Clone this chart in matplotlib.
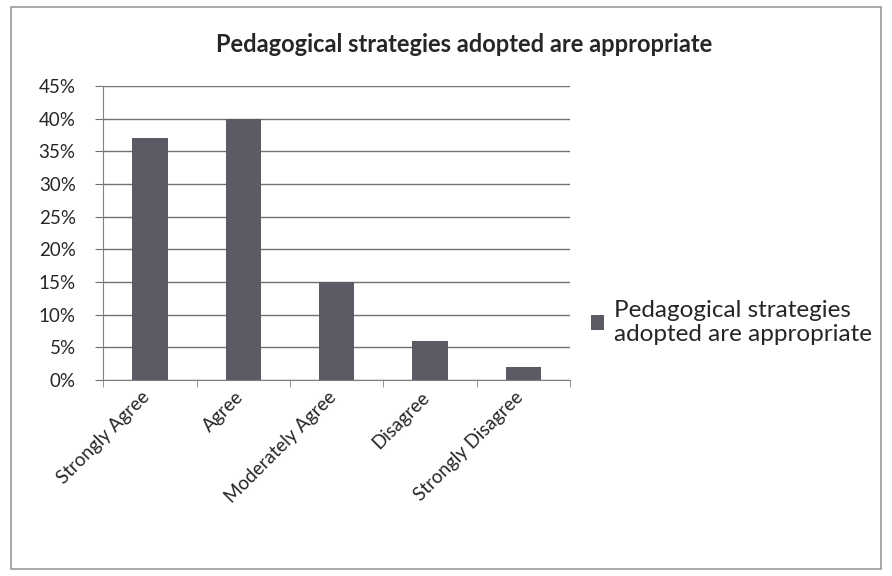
import matplotlib.pyplot as plt
import matplotlib.patches as mpatches
import matplotlib.transforms as mtransforms
import numpy as np

plt.rcParams['font.family'] = ['Lato', 'DejaVu Sans']

categories = ["Strongly Agree", "Agree", "Moderately Agree", "Disagree", "Strongly Disagree"]
percent = [37, 40, 15, 6, 2]
series_name = "Pedagogical strategies\nadopted are appropriate"
title = "Pedagogical strategies adopted are appropriate"

bar_color = "#5b5b66"
text_color = "#262626"

fig = plt.figure(figsize=(8.92, 5.76), dpi=100)
# outer chart border
fig.patches.append(mpatches.Rectangle((0.012, 0.012), 0.976, 0.976, transform=fig.transFigure,
                                      fill=False, edgecolor="#9a9a9a", linewidth=1.2))

ax = fig.add_axes([0.116, 0.340, 0.523, 0.511])
x = np.arange(len(categories))
ax.bar(x, percent, width=0.38, color=bar_color, zorder=3, label=series_name)

ax.set_xlim(-0.5, len(categories) - 0.5)
ax.set_ylim(0, 45)
ax.set_yticks(np.arange(0, 46, 5))
ax.set_yticklabels([f"{v}%" for v in range(0, 46, 5)], fontsize=13.5, color=text_color)
ax.yaxis.grid(True, color="#707070", linewidth=1, zorder=0)
ax.tick_params(axis='y', length=6, color="#707070", pad=14)

ax.set_xticks(x)
ax.set_xticklabels(categories, rotation=45, ha='right', rotation_mode='anchor',
                   fontsize=13.5, color=text_color)
ax.tick_params(axis='x', length=0, pad=6)
# nudge the rotated labels a little to the left, like the original
shift = mtransforms.ScaledTranslation(-9 / 100, 0, fig.dpi_scale_trans)
for lbl in ax.get_xticklabels():
    lbl.set_transform(lbl.get_transform() + shift)
# Excel-style category boundary ticks
ax.set_xticks(np.arange(-0.5, len(categories)), minor=True)
ax.tick_params(axis='x', which='minor', length=5, color="#808080")

for s in ['top', 'right']:
    ax.spines[s].set_visible(False)
ax.spines['left'].set_color("#808080")
ax.spines['bottom'].set_color("#808080")

fig.text(0.520, 0.922, title, ha='center', va='center', fontsize=17, fontweight='bold',
         color=text_color)

fig.legend(loc='center left', bbox_to_anchor=(0.662, 0.44), frameon=False, fontsize=17.5,
           borderaxespad=0, borderpad=0, labelcolor=text_color,
           handlelength=0.55, handleheight=0.55, handletextpad=0.4)

fig.savefig("out.png", dpi=100)
